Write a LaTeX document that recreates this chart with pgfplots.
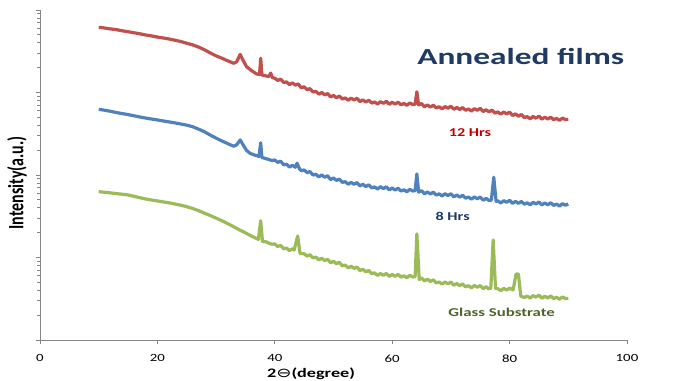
\documentclass[border=0pt]{standalone}
\usepackage{pgfplots}
\pgfplotsset{compat=1.18}
\usepackage{fontspec}
\setmainfont{Carlito}
\newfontfamily\dejavu{DejaVu Sans}
\usepackage{graphicx}
\definecolor{cred}{HTML}{C0504D}
\definecolor{cblue}{HTML}{4F81BD}
\definecolor{cgreen}{HTML}{9BBB59}
\definecolor{axgray}{HTML}{868686}
\definecolor{titleblue}{HTML}{1F3B63}
\definecolor{lblred}{HTML}{C00000}
\definecolor{lblblue}{HTML}{1F3864}
\definecolor{lblgreen}{HTML}{4F6228}
\begin{document}
\begin{tikzpicture}
\path[use as bounding box] (-40pt,-40pt) rectangle (639pt,340pt);
\begin{axis}[
  at={(0,0)}, anchor=south west,
  scale only axis, width=587pt, height=330pt,
  xmin=0, xmax=100, ymode=log, ymin=1, ymax=10000,
  axis x line*=bottom, axis y line*=left,
  xtick={0,20,...,100},
  yticklabel=\empty,
  tick align=outside,
  axis line style={color=axgray, line width=0.8pt},
  tick style={color=axgray, line width=0.8pt},
  clip=false,
  /pgf/number format/assume math mode=true,
  xticklabel={\scalebox{1.35}[1]{\pgfmathprintnumber{\tick}}},
  xticklabel style={font=\fontsize{11}{13}\selectfont, text=black, yshift=-7pt},
  every axis plot/.append style={line width=3.2pt, line join=round, no markers},
]
% 12 Hrs
\addplot[color=cred] coordinates {
(10,6170)(11,6050)(12,5900)(13,5780)(14,5600)(15,5450)(16,5300)(17,5150)(18,4980)(19,4850)
(20,4700)(21,4580)(22,4450)(23,4300)(24,4150)(25,3950)(26,3780)(27,3560)(28,3300)(29,3020)
(30,2780)(31,2600)(32,2420)(33,2260)(33.5,2350)(34.1,2900)(34.6,2450)(35.2,2050)(36,1850)
(36.9,1680)(37.4,1650)(37.6,2600)(37.8,1630)(38.5,1590)(39,1560)(39.3,1720)(39.6,1510)
(40,1490)(40.5,1400)(41,1455)(41.5,1324)(42,1343)(42.5,1248)(43,1308)(43.5,1228)(44,1270)
(44.5,1140)(45,1174)(45.5,1083)(46,1113)(46.5,1014)(47,1030)(47.5,955)(48,999)(48.5,938)
(49,971)(49.5,883)(50,922)(50.5,864)(51,905)(51.5,834)(52,859)(52.5,806)(53,855)(53.5,812)
(54,851)(54.5,776)(55,814)(55.5,766)(56,806)(56.5,745)(57,768)(57.5,725)(58,773)(58.5,740)
(59,782)(59.5,720)(60,762)(60.5,723)(61,764)(61.5,710)(62,737)(62.5,699)(63,747)(63.5,715)
(63.9,720)(64.2,1020)(64.5,705)(65,735)(65.5,671)(66,706)(66.5,666)(67,702)(67.5,650)
(68,672)(68.5,634)(69,675)(69.5,645)(70,683)(70.5,626)(71,659)(71.5,623)(72,657)(72.5,609)
(73,631)(73.5,596)(74,637)(74.5,609)(75,643)(75.5,588)(76,618)(76.5,582)(77,612)(77.5,564)
(78,581)(78.5,546)(79,580)(79.5,550)(80,578)(80.5,526)(81,551)(81.5,516)(82,541)(82.5,497)
(83,510)(83.5,481)(84,512)(84.5,489)(85,517)(85.5,475)(86,503)(86.5,476)(87,503)(87.5,468)
(88,485)(88.5,459)(89,490)(89.5,469)(90,473)
};
% 8 Hrs
\addplot[color=cblue] coordinates {
(10,626)(11,610)(12,592)(13,572)(14,555)(15,540)(16,522)(17,505)(18,490)(19,477)
(20,465)(21,452)(22,440)(23,428)(24,415)(25,402)(26,385)(27,360)(28,335)(29,305)
(30,280)(31,258)(32,240)(33,223)(33.5,232)(34.1,266)(34.6,232)(35.2,198)(35.8,183)
(36.5,175)(37.3,168)(37.6,246)(37.8,163)(38.5,158)(39,154)(39.5,150)
(40,152)(40.5,142)(41,147)(41.5,133)(42,135)(42.5,125)(43,131)(43.5,124)(43.8,139)(44.2,119)
(44.5,113)(45,115)(45.5,107)(46,110)(46.5,100)(47,102)(47.5,95)(48,100)(48.5,94)
(49,98)(49.5,88)(50,92)(50.5,86)(51,89)(51.5,81.5)(52,83)(52.5,77.3)(53,81.4)(53.5,77.2)
(54,80.9)(54.5,73.7)(55,77.3)(55.5,72.5)(56,75.9)(56.5,69.8)(57,71.7)(57.5,67.7)(58,72.1)(58.5,68.5)
(59,71.9)(59.5,66)(60,69.5)(60.5,65.7)(61,69.2)(61.5,64)(62,66.2)(62.5,62.6)(63,67)(63.5,64)
(63.9,64.5)(64.2,103)(64.5,62)(65,64.6)(65.5,59.2)(66,62.3)(66.5,58.8)(67,61.9)(67.5,57.2)
(68,59.1)(68.5,55.7)(69,59.2)(69.5,56.4)(70,59.3)(70.5,54.3)(71,57.2)(71.5,53.9)(72,56.7)(72.5,52.4)
(73,54)(73.5,50.9)(74,54.1)(74.5,51.5)(75,54.1)(75.5,49.5)(76,52)(76.5,49)(76.9,49.8)(77.3,94)
(77.7,48)(78,48.5)(78.5,45.8)(79,48.9)(79.5,46.7)(80,49.4)(80.5,45.3)(81,47.9)(81.5,45.3)(82,47.8)
(82.5,44.3)(83,46)(83.5,43.5)(84,46.6)(84.5,44.6)(85,47.1)(85.5,43.4)(86,45.9)(86.5,43.5)(87,46.1)
(87.5,42.8)(88,44.4)(88.5,42)(89,44.9)(89.5,43)(90,44.5)
};
% Glass substrate
\addplot[color=cgreen] coordinates {
(10,62.8)(11,61.8)(12,60.7)(13,59.5)(14,58.5)(15,57.3)(16,55.2)(17,53.1)(18,51.2)(19,49.8)
(20,48.5)(21,47.2)(22,46)(23,44.5)(24,43)(25,41.3)(26,39.3)(27,37)(28,34.5)(29,32.3)
(30,30)(31,27.9)(32,25.7)(33,23.6)(34,21.6)(35,19.9)(36,18.2)(37.2,16.6)(37.6,27.9)(37.9,15.6)
(38.5,15.5)(39,14.9)(39.5,14.5)
(40,14.6)(40.5,13.6)(41,14.0)(41.5,12.8)(42,13.0)(42.5,12.1)(43,12.8)(43.3,12.3)(43.9,18.2)(44.3,11.2)
(45,11.1)(45.5,10.4)(46,10.8)(46.5,9.9)(47,10.1)(47.5,9.36)(48,9.79)(48.5,9.19)
(49,9.5)(49.5,8.63)(50,9.01)(50.5,8.4)(51,8.74)(51.5,7.95)(52,8.08)(52.5,7.49)(53,7.83)(53.5,7.38)
(54,7.67)(54.5,6.94)(55,7.21)(55.5,6.71)(56,6.97)(56.5,6.38)(57,6.51)(57.5,6.07)(58,6.39)(58.5,6.09)
(59,6.41)(59.5,5.9)(60,6.23)(60.5,5.9)(61,6.24)(61.5,5.79)(62,6.01)(62.5,5.68)(63,6.08)(63.5,5.81)
(63.9,5.85)(64.2,19.3)(64.6,5.4)(65,5.67)(65.5,5.19)(66,5.46)(66.5,5.12)(67,5.36)(67.5,4.92)
(68,5.05)(68.5,4.75)(69,5.05)(69.5,4.8)(70,5.04)(70.5,4.61)(71,4.84)(71.5,4.56)(72,4.78)(72.5,4.41)
(73,4.55)(73.5,4.29)(74,4.58)(74.5,4.36)(75,4.57)(75.5,4.19)(76,4.43)(76.4,4.18)(76.8,4.25)(77.2,16.3)
(77.6,4.2)(78,4.19)(78.5,3.96)(79,4.22)(79.5,4.04)(80,4.25)(80.6,4.05)(81.1,6.3)(81.5,6.3)(81.9,3.4)
(82.5,3.28)(83,3.4)(83.5,3.23)(84,3.45)(84.5,3.31)(85,3.5)(85.5,3.21)(86,3.4)(86.5,3.23)(87,3.43)
(87.5,3.18)(88,3.3)(88.5,3.12)(89,3.33)(89.5,3.18)(90,3.2)
};
\node[text=titleblue, font=\fontsize{23}{26}\selectfont\bfseries] at (rel axis cs:0.819,0.858) {\scalebox{1.45}[1]{Annealed films}};
\node[text=lblred, font=\fontsize{12}{14}\selectfont\bfseries] at (rel axis cs:0.7325,0.628) {\scalebox{1.35}[1]{12 Hrs}};
\node[text=lblblue, font=\fontsize{12}{14}\selectfont\bfseries] at (rel axis cs:0.703,0.3736) {\scalebox{1.35}[1]{8 Hrs}};
\node[text=lblgreen, font=\fontsize{12}{14}\selectfont\bfseries] at (rel axis cs:0.7865,0.0827) {\scalebox{1.4}[1]{Glass Substrate}};
\node[rotate=90, font=\fontsize{16}{18}\selectfont\bfseries] at ([xshift=-23pt]rel axis cs:0,0.476) {\scalebox{1}[1.37]{Intensity(a.u.)}};
\node[font=\fontsize{13}{15}\selectfont\bfseries] at ([yshift=-34pt]rel axis cs:0.4617,0) {\scalebox{1.4}[1]{2{\dejavu\mdseries ⊖}(degree)}};
\end{axis}
\end{tikzpicture}
\end{document}
